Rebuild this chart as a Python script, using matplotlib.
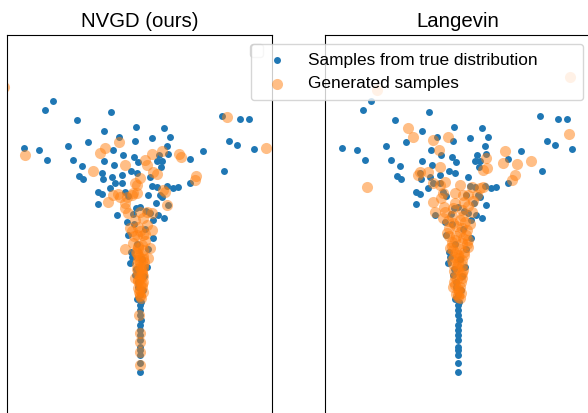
import matplotlib
import matplotlib.pyplot as plt
import numpy as np
from matplotlib.legend import Legend

matplotlib.use("Agg")

plt.rcParams["font.family"] = ["Liberation Sans", "DejaVu Sans"]

# Samples from the true (funnel) distribution, shared by both panels: (x, v)
true_samples = np.array([
    (-8.67, 12.53), (-9.5, 11.6), (-2.93, 11.43), (-6.33, 10.6), (8.17, 11.0),
    (10.0, 10.7), (10.93, 10.7), (-0.4, 9.93), (2.43, 9.77), (-3.6, 9.53),
    (-2.1, 8.93), (1.17, 8.83), (3.03, 8.93), (-0.47, 8.5), (-5.17, 8.37),
    (8.9, 8.53), (9.7, 8.1), (-11.6, 7.77), (-10.07, 7.57), (-7.23, 8.0),
    (-2.73, 7.6), (11.4, 7.67), (6.27, 7.5), (2.67, 8.0), (-9.33, 6.63),
    (-6.67, 6.57), (-1.7, 7.07), (-0.63, 6.87), (2.77, 7.2), (1.87, 7.1),
    (5.0, 6.67), (-5.77, 6.0), (-3.63, 6.5), (-2.6, 6.07), (-0.17, 6.37),
    (1.67, 6.5), (2.1, 5.87), (2.2, 6.5), (8.4, 5.53), (-6.1, 4.97),
    (-5.73, 4.7), (-3.77, 5.27), (-2.83, 4.93), (-1.83, 5.1), (-0.87, 5.5),
    (-0.33, 5.33), (1.0, 4.93), (-3.67, 4.67), (5.0, 4.27), (3.83, 3.93),
    (3.33, 3.83), (-2.5, 4.33), (-3.0, 3.83), (-1.83, 4.27), (1.17, 4.0),
    (1.67, 3.93), (2.67, 4.0), (-4.17, 3.37), (-3.83, 3.17), (-1.5, 3.43),
    (0.83, 3.1), (2.0, 3.1), (-1.17, 3.03), (-4.23, 2.2), (-2.27, 1.1),
    (1.57, 2.33), (2.4, 0.77), (1.83, 1.1), (2.17, 2.93), (2.8, 2.1),
    (0.0, 1.93), (-0.4, 1.77), (1.0, 1.27), (1.33, 0.6), (-1.17, -0.9),
    (1.33, -1.23), (-0.83, -3.07), (-1.0, -3.73), (0.73, -4.07), (-0.5, -4.9),
    (-0.17, -6.07), (0.0, -6.9), (0.0, -7.9), (-0.05, -8.4), (0.0, -8.9),
    (0.05, -9.4), (-0.05, -9.9), (0.0, -10.4), (-0.05, -10.9), (0.0, -11.4),
    (-0.05, -12.07), (0.0, -12.4), (-0.05, -12.9), (-0.05, -13.67), (0.0, -14.57),
    (-0.6, 0.2), (0.5, -0.3), (-0.3, -1.8), (0.8, -2.3), (-0.9, -2.6),
    (0.2, -3.3), (-0.4, -4.3), (0.4, -5.0), (-0.2, -5.6), (0.3, -6.4),
    (-0.3, -7.3), (0.1, -7.6), (-0.7, 1.2), (0.6, 1.5), (-1.3, 0.4),
])

# Generated samples, NVGD
nvgd_samples = np.array([
    (8.67, 10.93), (-11.5, 7.1), (12.57, 7.83), (-3.5, 7.77), (-4.0, 7.27),
    (-2.07, 8.37), (1.17, 7.2), (2.17, 7.53), (3.87, 7.17), (4.1, 6.93),
    (0.5, 6.6), (0.67, 6.1), (-1.47, 6.1), (-4.73, 5.5), (5.6, 5.0),
    (0.0, 4.83), (1.67, 5.17), (1.33, 5.43), (-0.33, 4.1), (2.33, 3.6),
    (-0.73, 3.27), (-2.17, 3.17), (-13.6, 13.9), (-0.5, 4.27), (-2.67, 3.1),
    (-3.17, 2.43), (-2.0, 2.93), (-1.33, 2.93), (-0.83, 3.1), (-0.33, 3.27),
    (-1.5, 2.27), (-1.17, 1.27), (-1.5, 1.77), (0.0, 1.43), (0.67, 1.43),
    (1.17, 1.27), (0.33, 0.77), (-0.5, 0.6), (-1.0, -0.23), (-0.17, -0.07),
    (0.67, 0.1), (1.17, -0.4), (-0.33, -0.9), (0.33, -0.9), (-0.67, -1.73),
    (0.17, -1.9), (1.0, -2.23), (-1.5, -2.33), (-0.17, -2.23), (0.83, -3.23),
    (0.0, -3.57), (0.0, -4.07), (0.17, -4.57), (-0.5, -5.23), (0.0, -5.07),
    (0.33, -5.57), (0.0, -5.9), (0.0, -6.4), (0.0, -6.9), (-0.07, -8.9),
    (0.0, -10.73), (0.0, -11.57), (0.0, -12.57), (0.0, -13.9), (2.67, 2.1),
    (2.5, 3.43), (5.5, 4.6), (-0.3, -2.7), (0.3, -3.0), (-0.2, -3.4),
    (0.3, -3.9), (-0.3, -4.3), (0.2, -4.8), (-0.2, -5.5), (0.2, -6.1),
    (-0.1, -6.6), (0.1, -7.2),
    (-0.25, -2.0), (0.25, -2.4), (-0.2, -2.9), (0.3, -3.3), (-0.3, -3.8),
    (0.25, -4.2), (-0.25, -4.6), (0.3, -5.0), (-0.2, -5.4), (0.2, -5.8),
    (-0.25, -6.2), (0.25, -6.6), (0.0, -7.0), (-0.1, -3.1), (0.1, -4.4),
    (0.0, -5.3), (-0.4, -2.6), (0.4, -3.6), (0.5, -1.5), (-0.6, -1.0),
    (0.0, -0.5), (0.5, -0.8), (-0.8, -0.5),
])

# Generated samples, Langevin
langevin_samples = np.array([
    (-8.13, 13.6), (-4.97, 9.83), (-4.47, 8.93), (-2.47, 8.6), (-1.03, 8.93),
    (-1.87, 7.6), (11.13, 9.17), (4.7, 7.5), (2.77, 6.77), (4.47, 6.27),
    (5.93, 6.2), (7.3, 6.5), (5.7, 5.1), (5.37, 4.6), (2.87, 5.77),
    (2.47, 5.6), (-1.8, 5.93), (-3.8, 5.43), (-3.97, 5.1), (-2.97, 5.43),
    (-9.13, 3.93), (-1.3, 4.43), (-1.8, 4.1), (-2.47, 4.27), (0.2, 4.1),
    (1.37, 3.93), (2.2, 3.77), (-1.47, 3.27), (-0.3, 3.27), (0.53, 3.1),
    (11.2, 14.9), (2.53, 3.93), (-2.47, 2.43), (1.03, 3.1), (1.87, 3.1),
    (-2.3, 1.43), (-1.3, 1.43), (-0.47, 1.77), (0.37, 1.6), (1.37, 1.43),
    (-1.47, 0.77), (0.2, 0.6), (0.7, 0.43), (-0.47, 0.27), (-1.13, -0.73),
    (0.2, -0.57), (0.87, -0.4), (1.03, -1.4), (-0.63, -1.57), (0.37, -1.73),
    (-0.47, -2.4), (1.03, -2.07), (0.03, -2.9), (-0.63, -3.4), (0.37, -3.4),
    (-0.13, -4.07), (0.53, -4.4), (-0.3, -5.07), (0.37, -5.23), (-0.47, -6.07),
    (0.2, -6.07), (0.03, -6.9), (0.2, -7.23), (-0.2, -1.0), (0.6, -2.6),
    (-0.8, -2.2), (0.8, -0.9), (-0.9, -0.2), (0.0, -3.7), (0.4, -4.7),
    (-0.4, -5.6), (0.1, -6.5),
    (-0.9, -1.0), (0.5, -1.2), (-0.3, -1.4), (0.9, -1.8), (-0.6, -2.0),
    (0.2, -2.3), (-0.2, -2.6), (0.6, -2.9), (-0.4, -3.1), (0.1, -3.2),
    (-0.5, -3.8), (0.4, -3.9), (0.0, -4.3), (-0.4, -4.5), (0.3, -4.9),
    (-0.1, -5.3), (0.3, -5.6), (-0.3, -5.9), (0.0, -6.3), (0.3, -6.7),
    (-0.2, -6.8), (0.0, -7.1), (-0.6, 1.0), (0.5, 1.0), (-1.0, 0.5),
    (1.2, 0.2), (-0.2, 0.0), (0.4, -0.2), (-1.4, 1.9), (1.0, 2.0),
    (-0.3, 2.3), (0.6, 2.4), (-1.7, 2.8), (1.5, 2.5),
])

titles = ["NVGD (ours)", "Langevin"]
labels = ["Samples from true distribution", "Generated samples"]

fig = plt.figure(figsize=(5.88, 4.13), dpi=100)
ax1 = fig.add_axes([7 / 588, -4 / 413, 265 / 588, 382 / 413])
ax2 = fig.add_axes([325 / 588, -4 / 413, 265 / 588, 382 / 413])

handles = []
for ax, gen, title in zip([ax1, ax2], [nvgd_samples, langevin_samples], titles):
    h1 = ax.scatter(true_samples[:, 0], true_samples[:, 1], s=25,
                    color="tab:blue", linewidths=0, label=labels[0])
    h2 = ax.scatter(gen[:, 0], gen[:, 1], s=64, color="tab:orange",
                    alpha=0.5, linewidths=0, label=labels[1])
    handles = [h1, h2]
    ax.set_xlim(-13.3, 13.2)
    ax.set_ylim(-19.1, 19.1)
    ax.set_xticks([])
    ax.set_yticks([])
    ax.set_title(title, fontsize=14.7)

# empty legend box left over in the first panel
ax1.add_artist(Legend(ax1, [], [], loc="upper right", fontsize=12.4))

fig.legend(handles, labels, loc="upper left", mode="expand",
           bbox_to_anchor=(251 / 588, 1 - 44 / 413, 332 / 588, 0),
           fontsize=12.4, borderaxespad=0, borderpad=0.5)

fig.savefig("out.png", dpi=100)
plt.close(fig)
